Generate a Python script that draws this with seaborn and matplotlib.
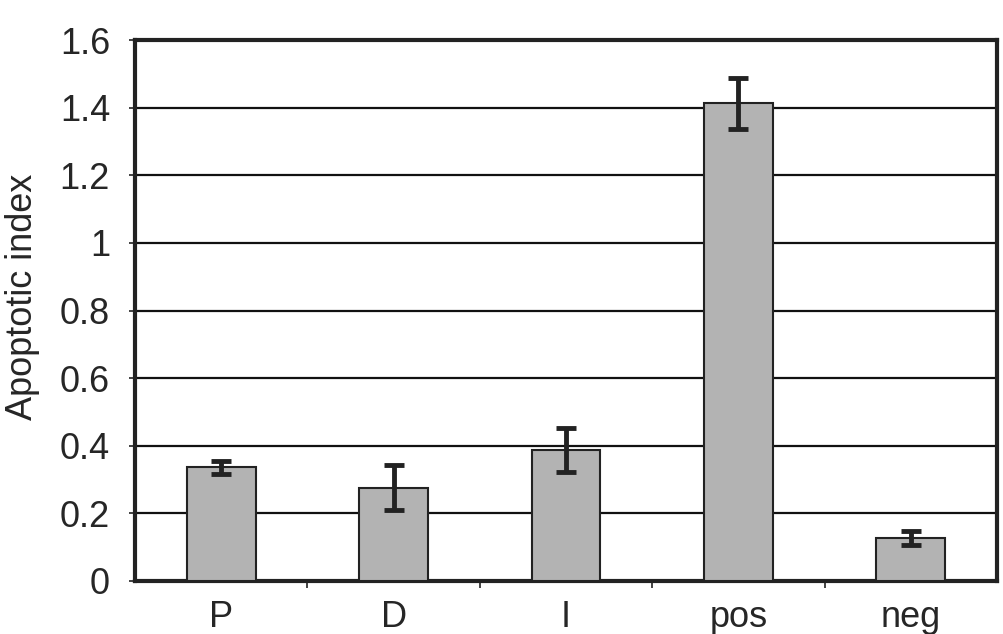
import matplotlib
matplotlib.use("Agg")
import matplotlib.pyplot as plt
from matplotlib import ticker
import numpy as np
import pandas as pd
import seaborn as sns

groups = ["P", "D", "I", "pos", "neg"]
index_mean = [0.337, 0.276, 0.388, 1.413, 0.127]
index_err = [0.019, 0.066, 0.066, 0.075, 0.021]
y_ticks = [0, 0.2, 0.4, 0.6, 0.8, 1, 1.2, 1.4, 1.6]
y_labels = ["0", "0.2", "0.4", "0.6", "0.8", "1", "1.2", "1.4", "1.6"]

sns.set_style("white")
plt.rcParams['font.family'] = ['Liberation Sans', 'DejaVu Sans']

df = pd.DataFrame({"group": groups, "value": index_mean})

fig = plt.figure(figsize=(10.04, 6.34), dpi=100)
ax = fig.add_axes([0.1345, 0.0836, 0.8585, 0.853])

sns.barplot(data=df, x="group", y="value", ax=ax, color="#b3b3b3",
            saturation=1, width=0.4, edgecolor="#222222", linewidth=1.5, zorder=3)
ax.errorbar(np.arange(len(groups)), index_mean, yerr=index_err, fmt="none",
            ecolor="#222222", elinewidth=3.5, capsize=7, capthick=3.5, zorder=4)

ax.set_xlim(-0.5, 4.5)
ax.set_ylim(0, 1.6)
ax.set_yticks(y_ticks)
ax.set_yticklabels(y_labels, fontsize=26)
ax.yaxis.grid(True, color="#111111", linewidth=1.6, zorder=0)
ax.set_axisbelow(True)

# category labels at centres, tick marks between categories
ax.set_xticks(range(len(groups)))
ax.set_xticklabels(groups, fontsize=26)
ax.xaxis.set_minor_locator(ticker.FixedLocator([0.5, 1.5, 2.5, 3.5]))
ax.tick_params(axis="x", which="major", length=0, pad=14)
ax.tick_params(axis="x", which="minor", length=5, width=1.2, color="#222222", direction="out", bottom=True)
ax.tick_params(axis="y", length=4, width=1.2, color="#222222", direction="out", left=True, pad=14)

for side in ["left", "right", "top", "bottom"]:
    ax.spines[side].set_visible(True)
    ax.spines[side].set_color("#222222")
    ax.spines[side].set_linewidth(3)

ax.set_xlabel("")
ax.set_ylabel("Apoptotic index", fontsize=26)
ax.yaxis.set_label_coords(-0.11, 0.525)

plt.savefig("out.png", dpi=100)
